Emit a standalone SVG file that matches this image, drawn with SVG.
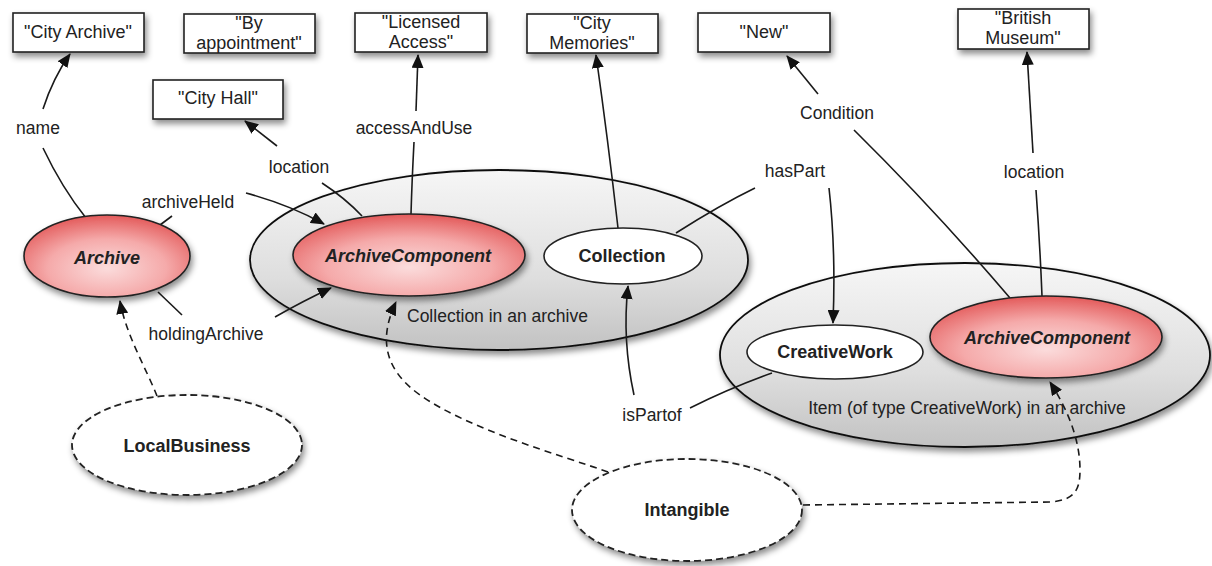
<svg xmlns="http://www.w3.org/2000/svg" width="1212" height="566" viewBox="0 0 1212 566">
<style>
text{font-family:"Liberation Sans",Arial,sans-serif;fill:#222}
.lbl{font-size:17.5px;text-anchor:middle}
.box text{font-size:18px;text-anchor:middle}
.nl{font-size:18px;font-weight:bold;text-anchor:middle}
.it{font-style:italic}
.box rect{fill:#fff;stroke:#222;stroke-width:1.6}
.edge{fill:none;stroke:#1a1a1a;stroke-width:1.6}
.dash{fill:none;stroke:#1a1a1a;stroke-width:1.6;stroke-dasharray:7 5}
.red{fill:url(#pink);stroke:#222;stroke-width:1.6}
.grey{fill:url(#grey);stroke:#111;stroke-width:1.8}
.white{fill:#fff;stroke:#222;stroke-width:1.6}
.dashed{fill:#fff;stroke:#222;stroke-width:1.8;stroke-dasharray:7 4}
</style>
<defs>
<filter id="sh" x="-20%" y="-20%" width="140%" height="160%">
<feDropShadow dx="2" dy="4" stdDeviation="3" flood-color="#000" flood-opacity="0.45"/>
</filter>
<radialGradient id="pink" cx="50%" cy="65%" r="65%">
<stop offset="0" stop-color="#fbdcdc"/>
<stop offset="0.55" stop-color="#f5aaaa"/>
<stop offset="1" stop-color="#e35a5a"/>
</radialGradient>
<linearGradient id="grey" x1="0" y1="0" x2="0" y2="1">
<stop offset="0" stop-color="#f6f6f6"/>
<stop offset="0.6" stop-color="#dedede"/>
<stop offset="1" stop-color="#c2c2c2"/>
</linearGradient>
<marker id="arr" markerUnits="userSpaceOnUse" markerWidth="14" markerHeight="12" viewBox="0 0 14 12" refX="13" refY="6" orient="auto">
<path d="M0,0 L14,6 L0,12 z" fill="#111"/>
</marker>
</defs>
<rect width="1212" height="566" fill="#fff"/>

<!-- container ellipses -->
<g id="collection-in-archive">
<ellipse class="grey" cx="499" cy="260" rx="249" ry="90" filter="url(#sh)"/>
<text class="lbl" x="407" y="322" style="text-anchor:start">Collection in an archive</text>
</g>
<g id="item-in-archive">
<ellipse class="grey" cx="965" cy="355" rx="245" ry="92" filter="url(#sh)"/>
<text class="lbl" x="967" y="414">Item (of type CreativeWork) in an archive</text>
</g>

<!-- literal boxes -->
<g id="box-city-archive" class="box"><rect x="13" y="13" width="131" height="39" filter="url(#sh)"/><text x="78" y="38">"City Archive"</text></g>
<g id="box-by-appointment" class="box"><rect x="184" y="14" width="131" height="39" filter="url(#sh)"/><text x="249" y="29">"By</text><text x="249" y="49">appointment"</text></g>
<g id="box-licensed-access" class="box"><rect x="355" y="13" width="132" height="39" filter="url(#sh)"/><text x="421" y="28">"Licensed</text><text x="421" y="48">Access"</text></g>
<g id="box-city-memories" class="box"><rect x="527" y="14" width="131" height="39" filter="url(#sh)"/><text x="592" y="29">"City</text><text x="592" y="49">Memories"</text></g>
<g id="box-new" class="box"><rect x="698" y="13" width="132" height="39" filter="url(#sh)"/><text x="764" y="38">"New"</text></g>
<g id="box-british-museum" class="box"><rect x="958" y="9" width="131" height="40" filter="url(#sh)"/><text x="1023" y="24">"British</text><text x="1023" y="44">Museum"</text></g>
<g id="box-city-hall" class="box"><rect x="153" y="80" width="130" height="39" filter="url(#sh)"/><text x="218" y="104">"City Hall"</text></g>

<!-- connectors -->
<g id="connectors">
<path class="edge" d="M43,109 Q53,78 70,54" marker-end="url(#arr)"/>
<path class="edge" d="M43,148 Q62,188 86,218"/>
<path class="edge" d="M160,225 L172,216"/>
<path class="edge" d="M246,193 Q290,205 324,224" marker-end="url(#arr)"/>
<path class="edge" d="M158,292 L182,315"/>
<path class="edge" d="M275,317 Q305,300 331,288" marker-end="url(#arr)"/>
<path class="edge" d="M277,146 L245,121" marker-end="url(#arr)"/>
<path class="edge" d="M322,183 Q345,198 362,216"/>
<path class="edge" d="M416,111 L418,55" marker-end="url(#arr)"/>
<path class="edge" d="M414,142 Q412,180 411,214"/>
<path class="edge" d="M618,228 Q608,140 596,55" marker-end="url(#arr)"/>
<path class="edge" d="M676,233 Q720,205 755,188"/>
<path class="edge" d="M829,188 Q836,250 833,323" marker-end="url(#arr)"/>
<path class="edge" d="M818,94 L787,56" marker-end="url(#arr)"/>
<path class="edge" d="M854,130 Q935,210 1010,298"/>
<path class="edge" d="M1033,153 L1027,52" marker-end="url(#arr)"/>
<path class="edge" d="M1036,190 Q1040,245 1042,296"/>
<path class="edge" d="M634,395 Q622,340 628,286" marker-end="url(#arr)"/>
<path class="edge" d="M690,408 Q730,388 772,373"/>
<path class="dash" d="M157,396 C146,368 126,335 120,301" marker-end="url(#arr)"/>
<path class="dash" d="M608,472 C560,455 470,430 420,395 C385,370 378,340 396,302" marker-end="url(#arr)"/>
<path class="dash" d="M803,505 L1050,502 C1075,500 1080,490 1080,470 C1080,440 1068,410 1050,382" marker-end="url(#arr)"/>
<text class="lbl" x="38" y="134">name</text>
<text class="lbl" x="188" y="208">archiveHeld</text>
<text class="lbl" x="206" y="340">holdingArchive</text>
<text class="lbl" x="299" y="173">location</text>
<text class="lbl" x="414" y="134">accessAndUse</text>
<text class="lbl" x="795" y="177">hasPart</text>
<text class="lbl" x="837" y="119">Condition</text>
<text class="lbl" x="1034" y="178">location</text>
<text class="lbl" x="652" y="421">isPartof</text>
</g>

<!-- nodes -->
<g id="node-archive"><ellipse class="red" cx="107" cy="256" rx="83" ry="41" filter="url(#sh)"/><text class="nl it" x="107" y="264">Archive</text></g>
<g id="node-archivecomponent-1"><ellipse class="red" cx="409" cy="255" rx="116" ry="41" filter="url(#sh)"/><text class="nl it" x="408" y="262">ArchiveComponent</text></g>
<g id="node-collection"><ellipse class="white" cx="623" cy="256" rx="79" ry="28"/><text class="nl" x="622" y="262">Collection</text></g>
<g id="node-creativework"><ellipse class="white" cx="835" cy="352" rx="88" ry="27"/><text class="nl" x="835" y="358">CreativeWork</text></g>
<g id="node-archivecomponent-2"><ellipse class="red" cx="1046" cy="337" rx="116" ry="41" filter="url(#sh)"/><text class="nl it" x="1047" y="344">ArchiveComponent</text></g>
<g id="node-localbusiness"><ellipse class="dashed" cx="187" cy="445" rx="115" ry="50" filter="url(#sh)"/><text class="nl" x="187" y="452">LocalBusiness</text></g>
<g id="node-intangible"><ellipse class="dashed" cx="687" cy="510" rx="115" ry="51" filter="url(#sh)"/><text class="nl" x="687" y="516">Intangible</text></g>
</svg>
